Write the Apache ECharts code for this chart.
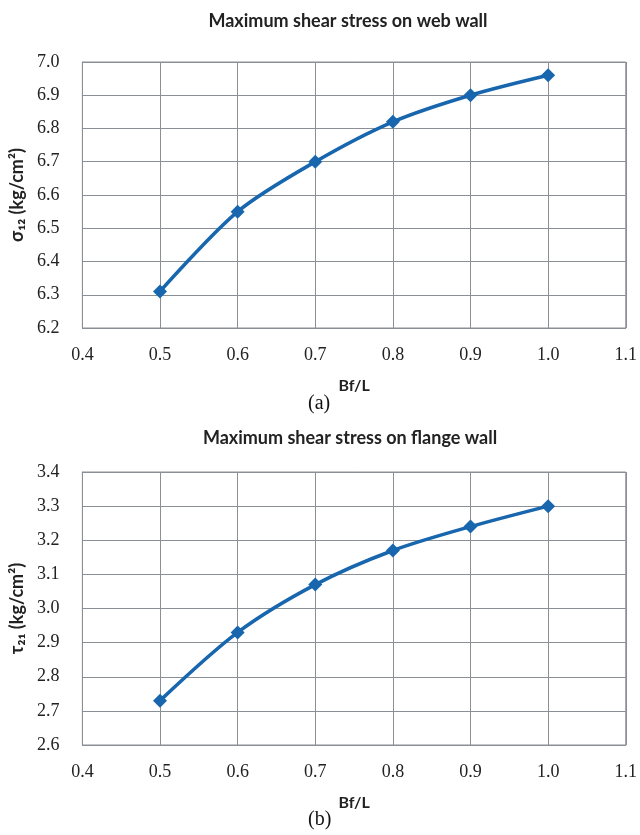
<!DOCTYPE html>
<html>
<head>
<meta charset="utf-8">
<script src="https://cdn.jsdelivr.net/npm/echarts@6/dist/echarts.min.js"></script>
<style>
  html, body { margin: 0; padding: 0; background: #fff; }
  #main { width: 640px; height: 835px; }
</style>
</head>
<body>
<div id="main"></div>
<script>
// Bf/L values shared by both panels
var bfL = [0.5, 0.6, 0.7, 0.8, 0.9, 1.0];
// (a) max shear stress on web wall
var webStress = [6.31, 6.55, 6.70, 6.82, 6.90, 6.96];
// (b) max shear stress on flange wall
var flangeStress = [2.73, 2.93, 3.07, 3.17, 3.24, 3.30];

var titles = ['Maximum shear stress on web wall', 'Maximum shear stress on flange wall'];
var yNames = ['σ₁₂ (kg/cm²)', 'τ₂₁ (kg/cm²)'];
var yRanges = [[6.2, 7.0], [2.6, 3.4]];

var lineColor = '#1766ae';
var gridColor = '#8a8f96';
var sansFont = 'Lato';
var serifFont = 'Liberation Serif, serif';

function tickFmt(v) { return v.toFixed(1); }

function pairs(xs, ys) {
  return xs.map(function (x, i) { return [x, ys[i]]; });
}

function xAxisFor(idx) {
  return {
    type: 'value', gridIndex: idx,
    min: 0.4, max: 1.1, interval: 0.1,
    name: 'Bf/L', nameLocation: 'middle', nameGap: 50,
    nameTextStyle: { fontFamily: sansFont, fontWeight: 'bold', fontSize: 16, color: '#222' },
    axisLine: { show: true, lineStyle: { color: gridColor } },
    axisTick: { show: false },
    axisLabel: { fontFamily: serifFont, fontSize: 18, color: '#222', margin: 18, formatter: tickFmt },
    splitLine: { show: true, lineStyle: { color: gridColor, width: 1 } }
  };
}

function yAxisFor(idx) {
  return {
    type: 'value', gridIndex: idx,
    min: yRanges[idx][0], max: yRanges[idx][1], interval: 0.1,
    name: yNames[idx], nameLocation: 'middle', nameGap: 54, nameRotate: 90,
    nameTextStyle: { fontFamily: sansFont, fontWeight: 'bold', fontSize: 18, color: '#222' },
    axisLine: { show: true, lineStyle: { color: gridColor } },
    axisTick: { show: false },
    axisLabel: { fontFamily: serifFont, fontSize: 18, color: '#222', margin: 23, formatter: tickFmt },
    splitLine: { show: true, lineStyle: { color: gridColor, width: 1 } }
  };
}

function seriesFor(idx, ys) {
  return {
    type: 'line', xAxisIndex: idx, yAxisIndex: idx,
    data: pairs(bfL, ys),
    smooth: 0.3,
    symbol: 'diamond', symbolSize: 14,
    lineStyle: { color: lineColor, width: 3.5 },
    itemStyle: { color: lineColor },
    animation: false
  };
}

var myChart = echarts.init(document.getElementById('main'));
var option = {
  backgroundColor: '#fff',
  title: [
    { text: titles[0], left: 343, top: 7, textAlign: 'center',
      textStyle: { fontFamily: sansFont, fontWeight: 'bold', fontSize: 18, color: '#222' } },
    { text: titles[1], left: 345, top: 424, textAlign: 'center',
      textStyle: { fontFamily: sansFont, fontWeight: 'bold', fontSize: 18, color: '#222' } }
  ],
  grid: [
    { left: 72, right: 12, top: 62, height: 266, show: true, borderColor: gridColor, borderWidth: 1 },
    { left: 68, right: 12, top: 472, height: 273, show: true, borderColor: gridColor, borderWidth: 1 }
  ],
  xAxis: [xAxisFor(0), xAxisFor(1)],
  yAxis: [yAxisFor(0), yAxisFor(1)],
  series: [seriesFor(0, webStress), seriesFor(1, flangeStress)],
  graphic: [
    { type: 'text', left: 308, top: 394,
      style: { text: '(a)', font: '20px serif', fill: '#111' } },
    { type: 'text', left: 308, top: 810,
      style: { text: '(b)', font: '20px serif', fill: '#111' } }
  ]
};
myChart.setOption(option, true);
window.onresize = function () { myChart.resize(); };
</script>
</body>
</html>
